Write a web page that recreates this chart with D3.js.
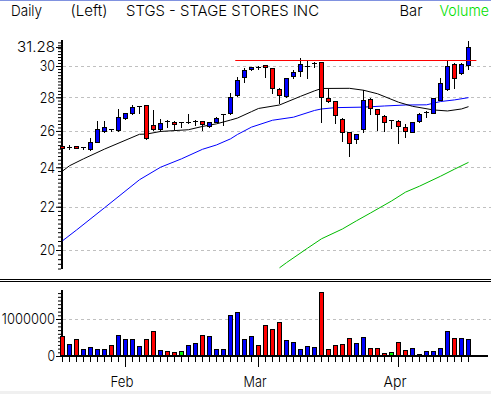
<!DOCTYPE html>
<html>
<head>
<meta charset="utf-8">
<script src="https://cdn.jsdelivr.net/npm/d3@7"></script>
<style>
body { margin: 0; background: #fff; }
text { font-family: Inter, "DejaVu Sans", sans-serif; font-weight: 300; font-size: 15px; fill: #000; }
</style>
</head>
<body>
<div id="chart"></div>
<script>
// Daily bars, index 0 = first session shown
var opens  = [25.17,25.08,25.14,25.08,24.99,25.40,26.02,26.13,26.05,26.75,
              27.07,27.45,27.50,26.33,26.09,26.60,26.53,26.52,26.52,26.58,
              26.57,26.31,26.53,26.96,27.03,28.14,29.26,29.78,29.96,30.07,
              29.85,28.53,28.08,29.35,29.65,30.01,30.21,30.24,27.93,27.75,
              26.69,25.93,25.54,26.09,27.88,27.27,26.89,26.63,26.57,26.24,
              25.96,26.59,27.10,27.07,27.86,28.53,30.11,29.52,30.05];
var highs  = [25.25,25.20,25.16,25.10,25.62,26.60,26.57,26.14,27.27,27.07,
              27.55,27.48,27.55,27.23,26.67,26.61,26.59,26.53,26.97,26.61,
              26.59,26.52,26.79,26.99,28.24,29.26,29.85,29.95,29.97,30.08,
              29.86,28.55,29.22,29.74,30.51,30.33,30.26,30.26,28.53,27.77,
              26.73,25.95,25.83,28.47,27.96,27.29,26.91,26.64,26.63,26.38,
              26.51,27.03,27.15,27.96,29.24,30.33,30.18,30.18,31.70];
var lows   = [24.98,25.00,25.02,24.97,24.93,25.36,25.96,26.02,26.00,26.69,
              26.99,27.03,25.54,26.05,26.02,26.24,26.14,26.20,26.44,26.34,
              26.05,26.20,26.50,26.34,26.99,28.10,28.98,29.74,29.78,29.26,
              28.27,27.66,28.04,29.20,29.35,29.24,29.95,26.53,27.72,26.48,
              25.43,24.60,25.31,25.96,26.99,26.05,26.02,26.18,25.31,25.65,
              25.93,26.53,26.84,27.03,27.83,28.45,28.58,29.48,29.78];
var closes = [25.05,25.10,25.05,25.09,25.36,26.12,26.20,26.11,26.79,27.03,
              27.43,27.47,25.60,26.11,26.48,26.58,26.38,26.52,26.54,26.60,
              26.40,26.50,26.73,26.98,28.04,29.09,29.74,29.91,29.94,29.91,
              28.60,28.14,29.20,29.63,30.13,30.03,30.23,28.04,27.79,26.93,
              25.93,25.31,25.81,27.83,27.33,26.97,26.50,26.63,26.31,26.00,
              26.50,26.97,27.12,27.93,28.87,30.00,29.20,30.11,31.28];
var volumes = [530000,320000,460000,190000,240000,190000,190000,300000,570000,460000,
               460000,270000,460000,680000,160000,135000,110000,135000,300000,350000,
               570000,540000,190000,190000,1110000,1190000,460000,540000,300000,840000,
               730000,920000,430000,380000,190000,270000,240000,1730000,190000,300000,
               320000,490000,350000,510000,220000,220000,80000,110000,380000,160000,
               220000,50000,135000,135000,220000,680000,490000,490000,460000];

// moving averages as [session, value]
var maShort = [[0,23.80],[1,24.08],[3,24.45],[6,24.98],[11,25.81],[12,25.82],[14,25.97],
               [18,26.07],[20,26.26],[22,26.41],[24,26.63],[25,26.75],[27,27.13],[28,27.32],
               [31,27.53],[34,28.06],[36,28.40],[37,28.55],[41,28.56],[43,28.44],[45,28.22],
               [48,27.70],[50,27.45],[53,27.23],[55,27.17],[57,27.29],[58,27.43]];
var maMid   = [[0,20.41],[2,20.90],[6,21.95],[11,23.35],[14,24.00],[17,24.45],[20,24.97],
               [22,25.21],[24,25.55],[25,25.80],[27,26.22],[30,26.62],[33,26.80],[36,27.20],
               [37,27.29],[39,27.37],[43,27.40],[46,27.47],[49,27.53],[52,27.54],[54,27.74],
               [56,27.84],[58,27.98]];
var maLong  = [[31,19.23],[32,19.45],[35,20.08],[37,20.50],[40,20.95],[42,21.33],[44,21.70],
               [47,22.28],[49,22.72],[51,23.02],[54,23.53],[56,23.90],[58,24.26]];

var resistance = [24.75, 59.2, 30.39];   // from session, to session, price
var priceTicks = [20, 22, 24, 26, 28, 30];
var lastPrice = 31.28;
var volTicks = [0, 1000000];
var monthTicks = [9, 28, 48];
var monthLabels = ["Feb", "Mar", "Apr"];

var width = 491, height = 394;
var blue = "#0000ff", red = "#ff0000", green = "#00ff00";

var svg = d3.select("#chart")
    .append("svg")
    .attr("width", width)
    .attr("height", height);

svg.append("rect").attr("width", width).attr("height", height).attr("fill", "#fff");
svg.append("rect").attr("y", 391).attr("width", width).attr("height", 3).attr("fill", "#f0f0f0");
svg.append("line").attr("x1", 0).attr("x2", width).attr("y1", 0.5).attr("y2", 0.5)
    .attr("stroke", "#8092e0");

// Header
function label(txt, x0, len, col){
    svg.append("text")
        .attr("x", x0)
        .attr("y", 16)
        .attr("textLength", len)
        .attr("lengthAdjust", "spacingAndGlyphs")
        .style("fill", col || "#000")
        .text(txt);
}
label("Daily", 11, 31);
label("(Left)", 70.5, 37);
label("STGS - STAGE STORES INC", 126, 193);
label("Bar", 399.5, 23);
label("Volume", 439.5, 49.5, "#00e000");

// Scales
var x = d3.scaleLinear().domain([0, opens.length - 1]).range([62, 468]);
var y = d3.scaleLog().domain([20, 30]).range([250, 66]);
var yv = d3.scaleLinear().domain([0, 1000000]).range([356, 319]);

function py(v){ return Math.round(y(v)) + 0.5; }
function barColor(i){
    if (closes[i] > opens[i]) return blue;
    if (closes[i] < opens[i]) return red;
    return green;
}

// Grid lines
svg.append("g").selectAll("line").data(priceTicks).enter().append("line")
    .attr("x1", 63).attr("x2", width)
    .attr("y1", py).attr("y2", py)
    .attr("stroke", "#c0c0c0")
    .attr("stroke-dasharray", "3,3");

svg.append("line")
    .attr("x1", 63).attr("x2", width)
    .attr("y1", Math.round(yv(1000000)) + 0.5).attr("y2", Math.round(yv(1000000)) + 0.5)
    .attr("stroke", "#c0c0c0")
    .attr("stroke-dasharray", "3,3");

// Price axis
svg.append("line").attr("x1", 62).attr("x2", 62).attr("y1", 40).attr("y2", 269)
    .attr("stroke", "#000").attr("stroke-width", 2);

var minor = svg.append("g")
    .attr("transform", "translate(61,0)")
    .call(d3.axisLeft(y).tickValues(d3.range(96, 159).map(function(d){ return d / 5; }))
        .tickSize(3).tickFormat(""));
minor.select(".domain").remove();

var major = svg.append("g")
    .attr("transform", "translate(61,0)")
    .call(d3.axisLeft(y).tickValues(priceTicks.concat([lastPrice]))
        .tickSize(5).tickPadding(1)
        .tickFormat(function(d){ return d == lastPrice ? "31.28" : d; }));
major.select(".domain").remove();
major.selectAll("text")
    .attr("textLength", function(d){ return String(d == lastPrice ? "31.28" : d).length * 7.6; })
    .attr("lengthAdjust", "spacingAndGlyphs");

// Moving averages
var line = d3.line()
    .x(function(d){ return x(d[0]) + 0.5; })
    .y(function(d){ return y(d[1]); });

[[maLong, "#00bb00"], [maMid, blue], [maShort, "#000"]].forEach(function(m){
    svg.append("path")
        .attr("d", line(m[0]))
        .attr("fill", "none")
        .attr("stroke", m[1])
        .attr("stroke-width", 1);
});

// Candles
var days = d3.range(opens.length);
var candles = svg.append("g").selectAll("g").data(days).enter().append("g");

candles.append("line")
    .attr("x1", function(i){ return x(i) + 0.5; })
    .attr("x2", function(i){ return x(i) + 0.5; })
    .attr("y1", function(i){ return Math.round(y(highs[i])); })
    .attr("y2", function(i){ return Math.round(y(lows[i])) + 1; })
    .attr("stroke", "#000");

candles.filter(function(i){ return Math.abs(y(opens[i]) - y(closes[i])) >= 1.2; })
    .append("rect")
    .attr("x", function(i){ return x(i) - 1.5; })
    .attr("width", 4)
    .attr("y", function(i){ return py(Math.max(opens[i], closes[i])); })
    .attr("height", function(i){ return py(Math.min(opens[i], closes[i])) - py(Math.max(opens[i], closes[i])); })
    .attr("fill", barColor)
    .attr("stroke", "#000");

candles.filter(function(i){ return Math.abs(y(opens[i]) - y(closes[i])) < 1.2; })
    .append("line")
    .attr("x1", function(i){ return x(i) - 2; })
    .attr("x2", function(i){ return x(i) + 3; })
    .attr("y1", function(i){ return py(closes[i]); })
    .attr("y2", function(i){ return py(closes[i]); })
    .attr("stroke", "#000");

// Resistance line
svg.append("line")
    .attr("x1", x(resistance[0])).attr("x2", x(resistance[1]))
    .attr("y1", py(resistance[2])).attr("y2", py(resistance[2]))
    .attr("stroke", red);

// Panel separator
svg.append("line").attr("x1", 0).attr("x2", width).attr("y1", 279.5).attr("y2", 279.5).attr("stroke", "#000");
svg.append("line").attr("x1", 0).attr("x2", width).attr("y1", 281.5).attr("y2", 281.5).attr("stroke", "#000");

// Volume axis
svg.append("line").attr("x1", 62).attr("x2", 62).attr("y1", 290).attr("y2", 357)
    .attr("stroke", "#000").attr("stroke-width", 2);

var vMinor = svg.append("g")
    .attr("transform", "translate(61,0)")
    .call(d3.axisLeft(yv).tickValues(d3.range(0, 18).map(function(d){ return d * 100000; }))
        .tickSize(3).tickFormat(""));
vMinor.select(".domain").remove();

var vMajor = svg.append("g")
    .attr("transform", "translate(61,0)")
    .call(d3.axisLeft(yv).tickValues(volTicks).tickSize(5).tickPadding(1).tickFormat(d3.format("d")));
vMajor.select(".domain").remove();
vMajor.selectAll("text")
    .attr("textLength", function(d){ return String(d).length * 7.6; })
    .attr("lengthAdjust", "spacingAndGlyphs");

// Volume bars
svg.append("g").selectAll("rect").data(days).enter().append("rect")
    .attr("x", function(i){ return x(i) - 1.5; })
    .attr("width", 4)
    .attr("y", function(i){ return Math.round(yv(volumes[i])) + 0.5; })
    .attr("height", function(i){ return 355.5 - (Math.round(yv(volumes[i])) + 0.5); })
    .attr("fill", barColor)
    .attr("stroke", "#000");

svg.append("line").attr("x1", 62).attr("x2", 488).attr("y1", 356).attr("y2", 356)
    .attr("stroke", "#000").attr("stroke-width", 2);

// Session ticks and months
svg.append("g").selectAll("line").data(days).enter().append("line")
    .attr("x1", function(i){ return x(i) + 0.5; })
    .attr("x2", function(i){ return x(i) + 0.5; })
    .attr("y1", 357)
    .attr("y2", function(i){ return monthTicks.indexOf(i) >= 0 ? 367 : 362; })
    .attr("stroke", "#000");

svg.append("g").selectAll("text").data(monthTicks).enter().append("text")
    .attr("x", function(d){ return x(d) - 3; })
    .attr("y", 386.5)
    .attr("text-anchor", "middle")
    .attr("textLength", 23)
    .attr("lengthAdjust", "spacingAndGlyphs")
    .text(function(d, i){ return monthLabels[i]; });
</script>
</body>
</html>
